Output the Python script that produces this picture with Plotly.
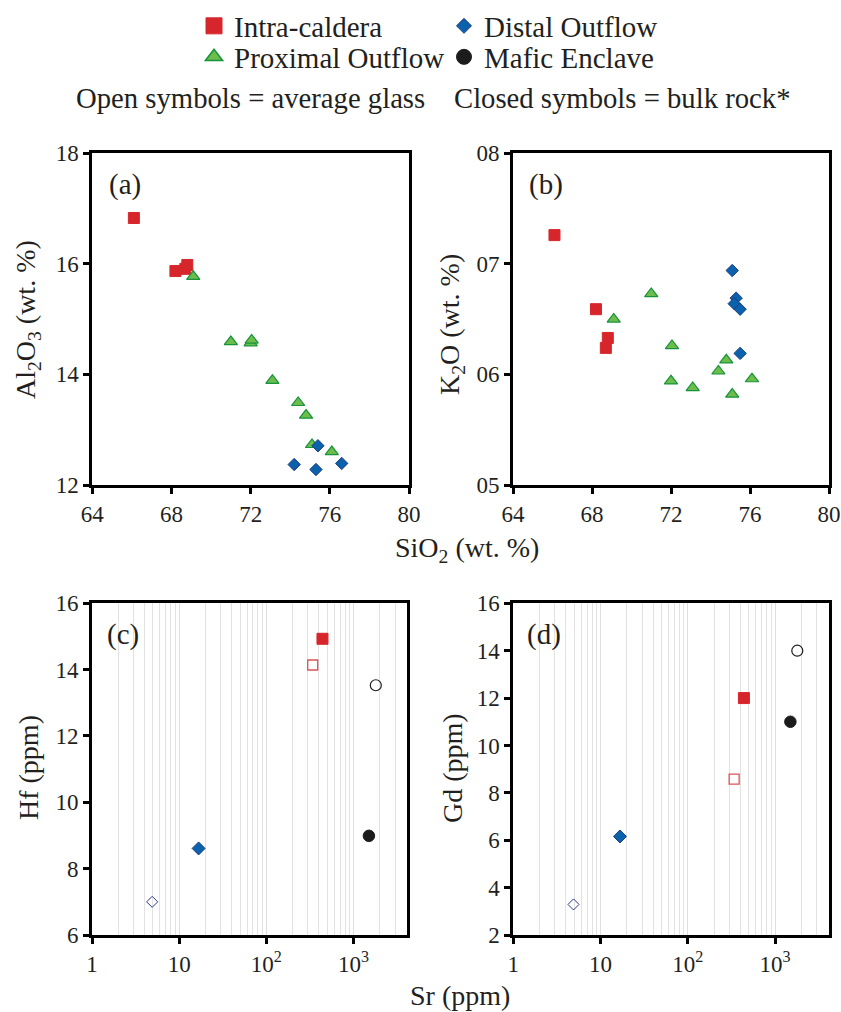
import plotly.graph_objects as go

W, H = 841, 1012
FONT = "'Liberation Serif', 'Times New Roman', Times, serif"
TXT = "#231f20"

# ---------------- data ----------------
# Panels (a) and (b): major oxides (wt. %)
intra_sio2 = [66.1, 68.2, 68.7, 68.8]
intra_al2o3 = [16.83, 15.87, 15.91, 15.98]
intra_k2o = [7.26, 6.59, 6.24, 6.33]

prox_sio2 = [69.1, 71.0, 72.0, 72.05, 73.1, 74.4, 74.8, 75.1, 76.1]
prox_al2o3 = [15.77, 14.59, 14.57, 14.62, 13.89, 13.49, 13.26, 12.73, 12.60]
prox_k2o = [6.50, 6.73, 5.94, 6.26, 5.88, 6.03, 6.13, 5.82, 5.96]

distal_sio2_a = [74.2, 75.4, 75.3, 76.6]
distal_al2o3 = [12.37, 12.71, 12.28, 12.39]
distal_sio2_b = [75.1, 75.3, 75.2, 75.5, 75.5]
distal_k2o = [6.94, 6.69, 6.64, 6.59, 6.19]

# Panels (c) and (d): trace elements (ppm); order = intra, distal, mafic
sr_glass = [340, 4.9, 1800]
sr_bulk = [440, 16.7, 1500]
hf_glass = [14.14, 7.0, 13.53]
hf_bulk = [14.93, 8.61, 8.99]
gd_glass = [8.58, 3.29, 14.0]
gd_bulk = [12.0, 6.16, 11.0]

k2o_tickvals = [5, 6, 7, 8]
k2o_ticktext = ["05", "06", "07", "08"]
sr_tickvals = [1, 10, 100, 1000]
sr_ticktext = ["1", "10", "10<sup>2</sup>", "10<sup>3</sup>"]
sr_minor = [m * d for d in (1, 10, 100, 1000) for m in range(2, 10) if m * d < 4100]

# ---------------- styles ----------------
RED = "#d7262b"
GREEN_F = "#6cbd4c"
GREEN_L = "#17933c"
BLUE_F = "#0a62ad"
BLUE_L = "#1f3c7e"
BLACK = "#1c1c1c"

sq = dict(symbol="square", size=11, color=RED, line=dict(color=RED, width=1))
tri = dict(symbol="triangle-up", size=11.5, color=GREEN_F, line=dict(color=GREEN_L, width=1.2))
dia = dict(symbol="diamond", size=9.5, color=BLUE_F, line=dict(color=BLUE_L, width=1))
circ = dict(symbol="circle", size=11, color=BLACK, line=dict(color=BLACK, width=1))

fig = go.Figure()

def add(x, y, marker, xa, ya):
    fig.add_trace(go.Scatter(x=x, y=y, mode="markers", marker=marker,
                             xaxis=xa, yaxis=ya, showlegend=False, hoverinfo="skip"))

# (a)
add(intra_sio2, intra_al2o3, sq, "x", "y")
add(prox_sio2, prox_al2o3, tri, "x", "y")
add(distal_sio2_a, distal_al2o3, dia, "x", "y")
# (b)
add(intra_sio2, intra_k2o, sq, "x2", "y2")
add(prox_sio2, prox_k2o, tri, "x2", "y2")
add(distal_sio2_b, distal_k2o, dia, "x2", "y2")

# (c) and (d)
open_sq = dict(symbol="square-open", size=10, color="#d9545a", line=dict(width=1.3))
open_dia = dict(symbol="diamond-open", size=8.5, color="#2b3a85", line=dict(width=1))
open_circ = dict(symbol="circle-open", size=11, color=BLACK, line=dict(width=1.2))
bulk_markers = [dict(sq), dict(dia, size=10), dict(circ, size=11.5)]
glass_markers = [open_sq, open_dia, open_circ]

for xa, ya, yg, yb in (("x3", "y3", hf_glass, hf_bulk), ("x4", "y4", gd_glass, gd_bulk)):
    for i in range(3):
        add([sr_glass[i]], [yg[i]], glass_markers[i], xa, ya)
        add([sr_bulk[i]], [yb[i]], bulk_markers[i], xa, ya)

# legend-only traces
leg_specs = [
    ("Intra-caldera", dict(symbol="square", size=16, color=RED, line=dict(color=RED, width=1)), "legend"),
    ("Distal Outflow", dict(symbol="diamond", size=11.5, color=BLUE_F, line=dict(color=BLUE_L, width=1)), "legend2"),
    ("Proximal Outflow", dict(symbol="triangle-up", size=15, color=GREEN_F, line=dict(color=GREEN_L, width=1.5)), "legend3"),
    ("Mafic Enclave", dict(symbol="circle", size=15, color=BLACK, line=dict(color=BLACK, width=1)), "legend4"),
]
for name, mk, lg in leg_specs:
    fig.add_trace(go.Scatter(x=[None], y=[None], mode="markers", marker=mk, name=name,
                             legend=lg, showlegend=True, xaxis="x", yaxis="y"))

# ---------------- layout ----------------
def px_x(p):
    return p / W

def px_y(p):
    return 1 - p / H

tickfont = dict(family=FONT, size=23, color=TXT)
base = dict(showline=True, linecolor="black", linewidth=3, mirror=True,
            ticks="outside", ticklen=6, tickwidth=2.5, tickcolor="black",
            showgrid=False, zeroline=False, tickfont=tickfont, fixedrange=True,
            automargin=False, tickangle=0)

dom_a = [px_x(92.3), px_x(409)]
dom_b = [px_x(513), px_x(829)]
dom_c = [px_x(92), px_x(407)]
dom_d = [px_x(513.3), px_x(828.5)]
dom_top = [px_y(485), px_y(153.3)]
dom_bot = [px_y(935), px_y(603.3)]

logx = dict(base, type="log", range=[0, 3.613], tickvals=sr_tickvals, ticktext=sr_ticktext,
            showgrid=True, gridcolor="#dedede", gridwidth=1,
            minor=dict(tickvals=sr_minor, showgrid=True, gridcolor="#e2e2e2", gridwidth=1, ticks=""))

leg_common = dict(xref="paper", yref="paper", xanchor="left", yanchor="middle",
                  font=dict(family=FONT, size=29, color=TXT), bgcolor="rgba(0,0,0,0)",
                  itemwidth=30, borderwidth=0)

fig.update_layout(
    width=W, height=H,
    margin=dict(l=0, r=0, t=0, b=0, autoexpand=False),
    paper_bgcolor="white", plot_bgcolor="white",
    font=dict(family=FONT, color=TXT),
    xaxis=dict(base, domain=dom_a, range=[64, 80], tickvals=[64, 68, 72, 76, 80], anchor="y"),
    yaxis=dict(base, domain=dom_top, range=[12, 18], tickvals=[12, 14, 16, 18], anchor="x"),
    xaxis2=dict(base, domain=dom_b, range=[64, 80], tickvals=[64, 68, 72, 76, 80], anchor="y2"),
    yaxis2=dict(base, domain=dom_top, range=[5, 8], tickvals=k2o_tickvals, ticktext=k2o_ticktext, anchor="x2"),
    xaxis3=dict(logx, domain=dom_c, anchor="y3"),
    yaxis3=dict(base, domain=dom_bot, range=[6, 16], tickvals=[6, 8, 10, 12, 14, 16], anchor="x3"),
    xaxis4=dict(logx, domain=dom_d, anchor="y4"),
    yaxis4=dict(base, domain=dom_bot, range=[2, 16], tickvals=[2, 4, 6, 8, 10, 12, 14, 16], anchor="x4"),
    legend=dict(leg_common, x=px_x(194), y=px_y(26)),
    legend2=dict(leg_common, x=px_x(444), y=px_y(26)),
    legend3=dict(leg_common, x=px_x(194), y=px_y(57)),
    legend4=dict(leg_common, x=px_x(444), y=px_y(57)),
)

def ann(text, x, y, size=28, angle=0, xanchor="center"):
    fig.add_annotation(text=text, x=px_x(x), y=px_y(y), xref="paper", yref="paper",
                       showarrow=False, textangle=angle, xanchor=xanchor, yanchor="middle",
                       font=dict(family=FONT, size=size, color=TXT))

ann("Open symbols = average glass", 74, 98, size=28.7, xanchor="left")
ann("Closed symbols = bulk rock*", 452, 98, size=28.7, xanchor="left")
ann("(a)", 125, 184, size=29)
ann("(b)", 546, 184, size=29)
ann("(c)", 123, 634, size=29)
ann("(d)", 544, 634, size=29)
ann("Al<sub>2</sub>O<sub>3</sub> (wt. %)", 28, 320, angle=-90)
ann("K<sub>2</sub>O (wt. %)", 452, 324, angle=-90)
ann("SiO<sub>2</sub> (wt. %)", 467, 549)
ann("Hf (ppm)", 28, 768, angle=-90)
ann("Gd (ppm)", 452, 768, angle=-90)
ann("Sr (ppm)", 460, 995)

fig.write_html("out.html")
